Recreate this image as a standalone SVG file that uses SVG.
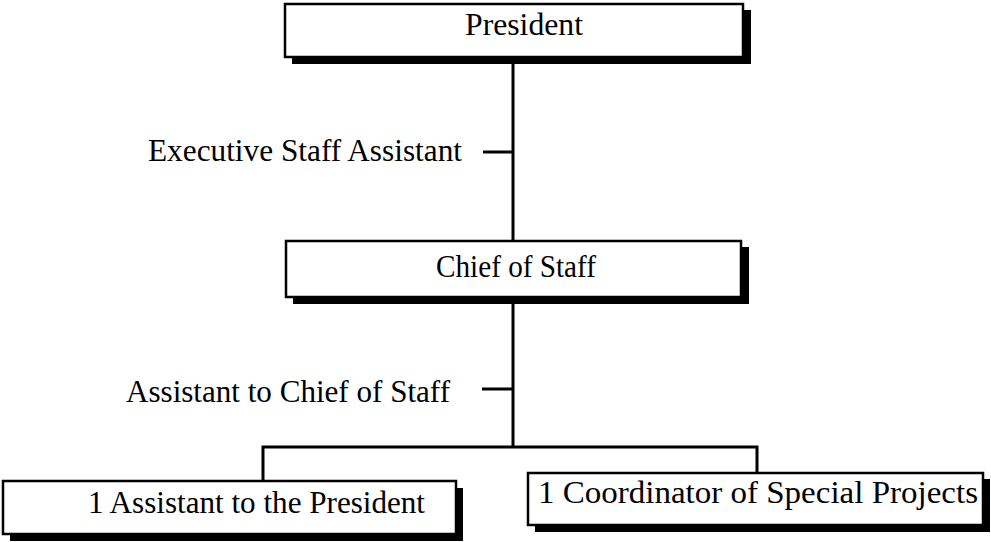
<svg xmlns="http://www.w3.org/2000/svg" width="991" height="542" viewBox="0 0 991 542">
<style>
.box{fill:#fff;stroke:#000;stroke-width:2.5}
.sh{fill:#000}
.t{font-family:"Liberation Serif","Times New Roman",serif;font-size:31px;fill:#000}
.ln{stroke:#000;stroke-width:3;fill:none}
</style>
<rect width="991" height="542" fill="#fff"/>
<g id="connectors">
<line class="ln" x1="513" y1="57" x2="513" y2="241"/>
<line class="ln" x1="513" y1="297" x2="513" y2="447"/>
<line class="ln" x1="483" y1="152" x2="513" y2="152"/>
<line class="ln" x1="482" y1="389" x2="513" y2="389"/>
<polyline class="ln" points="263,481 263,447 757,447 757,473"/>
</g>
<g id="president">
<rect class="sh" x="292" y="10" width="459" height="54"/>
<rect class="box" x="285" y="4" width="458" height="53"/>
<text class="t" x="465" y="35" textLength="118" lengthAdjust="spacingAndGlyphs">President</text>
</g>
<g id="exec-assistant">
<text class="t" x="148" y="161" textLength="314" lengthAdjust="spacingAndGlyphs">Executive Staff Assistant</text>
</g>
<g id="chief">
<rect class="sh" x="293" y="247" width="456" height="57"/>
<rect class="box" x="286" y="241" width="455" height="56"/>
<text class="t" x="436" y="277" font-size="30" textLength="160" lengthAdjust="spacingAndGlyphs">Chief of Staff</text>
</g>
<g id="asst-chief">
<text class="t" x="126" y="402" textLength="324" lengthAdjust="spacingAndGlyphs">Assistant to Chief of Staff</text>
</g>
<g id="asst-president">
<rect class="sh" x="10" y="488" width="453" height="53"/>
<rect class="box" x="3" y="481" width="453" height="53"/>
<text class="t" x="88" y="513" textLength="337" lengthAdjust="spacingAndGlyphs">1 Assistant to the President</text>
</g>
<g id="coordinator">
<rect class="sh" x="535" y="479" width="455" height="53"/>
<rect class="box" x="528" y="473" width="455" height="52"/>
<text class="t" x="538" y="503" font-size="32" textLength="440" lengthAdjust="spacingAndGlyphs">1 Coordinator of Special Projects</text>
</g>
</svg>
